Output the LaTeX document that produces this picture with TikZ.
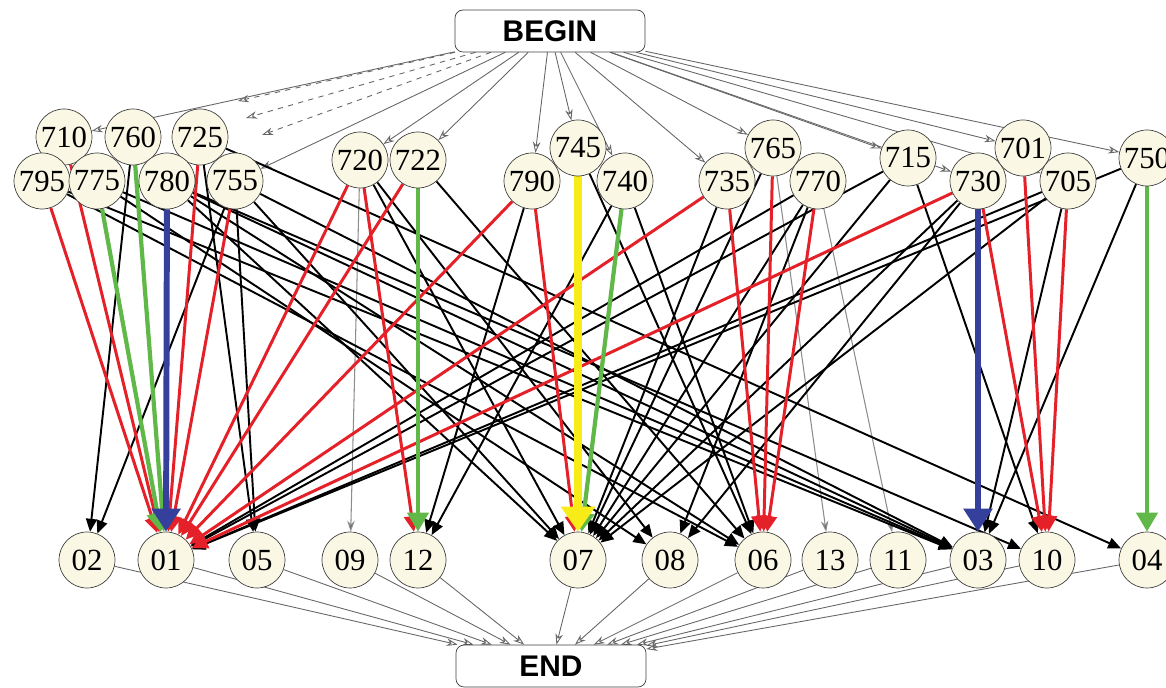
\documentclass[tikz,border=0pt]{standalone}
\usepackage{fontspec}
\setmainfont{Liberation Serif}
\newfontfamily\boxfont{Liberation Sans}
\usetikzlibrary{arrows.meta}

\definecolor{statefill}{RGB}{250,248,228}
\definecolor{arcred}{RGB}{228,32,40}
\definecolor{arcgreen}{RGB}{96,184,72}
\definecolor{arcblue}{RGB}{52,64,156}
\definecolor{arcyellow}{RGB}{248,236,24}

\pgfdeclarelayer{arcs}
\pgfsetlayers{arcs,main}

\begin{document}
\begin{tikzpicture}[x=0.02cm,y=-0.02cm,
  state/.style={circle,draw=black!75,fill=statefill,minimum size=1.12cm,inner sep=0pt,
    font=\fontsize{17.5}{18}\selectfont},
  term/.style={rectangle,rounded corners=0.16cm,draw=black!75,fill=white,
    minimum width=3.8cm,minimum height=0.84cm,font=\boxfont\bfseries\fontsize{17}{18}\selectfont},
  startarc/.style={draw=black!60,line width=0.5pt,-{Stealth[length=0.22cm,width=0.15cm,open]}},
  greyarc/.style={draw=black!45,line width=0.6pt,-{Stealth[length=0.22cm,width=0.15cm,fill=black!60]}},
  blackarc/.style={draw=black,line width=1.1pt,-{Triangle[length=0.26cm,width=0.22cm]}},
  redarc/.style={draw=arcred,line width=1.7pt,-{Triangle[length=0.32cm,width=0.3cm]}},
  greenarc/.style={draw=arcgreen,line width=2.4pt,-{Triangle[length=0.38cm,width=0.42cm]}},
  bluearc/.style={draw=arcblue,line width=3.4pt,-{Triangle[length=0.46cm,width=0.56cm]}},
  yellowarc/.style={draw=arcyellow,line width=5pt,-{Triangle[length=0.5cm,width=0.66cm]}}]
\useasboundingbox (0,0) rectangle (1166,688);
\clip (0,0) rectangle (1166,688);

\node[term] (begin) at (550,31) {BEGIN};
\node[term] (end) at (551,666) {END};

% upper row
\foreach \n/\x/\y in {710/64/137, 760/133/137, 725/200/137, 795/42/181, 775/97/181,
    780/167/181, 755/235/181, 720/360/160, 722/418/160, 790/532/181, 745/578/148,
    740/625/181, 735/727/181, 765/773/148, 770/818/181, 715/908/158, 730/978/181,
    701/1023/148, 705/1068/181, 750/1147/158}
  \node[state] (u\n) at (\x,\y) {\n};

% lower row
\foreach \n/\x in {02/87, 01/166, 05/257, 09/350, 12/418, 07/578, 08/670, 06/763,
    13/830, 11/898, 03/978, 10/1047, 04/1147}
  \node[state] (l\n) at (\x,560) {\n};

\coordinate (dA) at (238,101);
\coordinate (dB) at (246,118);
\coordinate (dC) at (262,135);

\begin{pgfonlayer}{arcs}
\foreach \n in {710,755,720,722,790,745,740,735,765,715,730,701,705,750}
  \draw[startarc] (begin) -- (u\n);
\foreach \c in {dA,dB,dC}
  \draw[startarc,dashed] (begin) -- (\c);
\foreach \n in {02,01,05,09,12,07,08,06,13,11,03,10,04}
  \draw[startarc] (l\n) -- (end);

\foreach \a/\b in {720/09, 765/13, 770/11}
  \draw[greyarc] (u\a) -- (l\b);

\foreach \a/\b in {760/02, 755/02, 725/05, 755/05, 725/04, 795/06, 795/03, 775/03,
    775/08, 780/07, 780/06, 780/03, 780/10, 755/07, 755/03, 720/07, 720/08, 722/06,
    790/12, 740/12, 745/06, 740/06, 735/07, 765/07, 770/07, 770/08, 770/01, 715/07,
    715/01, 715/10, 730/07, 730/08, 705/03, 705/07, 705/01, 750/03, 750/01}
  \draw[blackarc] (u\a) -- (l\b);

\foreach \a/\b in {710/01, 795/01, 725/01, 755/01, 720/01, 722/01, 790/01, 735/01,
    730/01, 720/12, 790/07, 735/06, 765/06, 770/06, 730/10, 701/10, 705/10}
  \draw[redarc] (u\a) -- (l\b);

\foreach \a/\b in {760/01, 775/01, 722/12, 740/07, 750/04}
  \draw[greenarc] (u\a) -- (l\b);

\foreach \a/\b in {780/01, 730/03}
  \draw[bluearc] (u\a) -- (l\b);

\draw[yellowarc] (u745) -- (l07);
\end{pgfonlayer}
\end{tikzpicture}
\end{document}
